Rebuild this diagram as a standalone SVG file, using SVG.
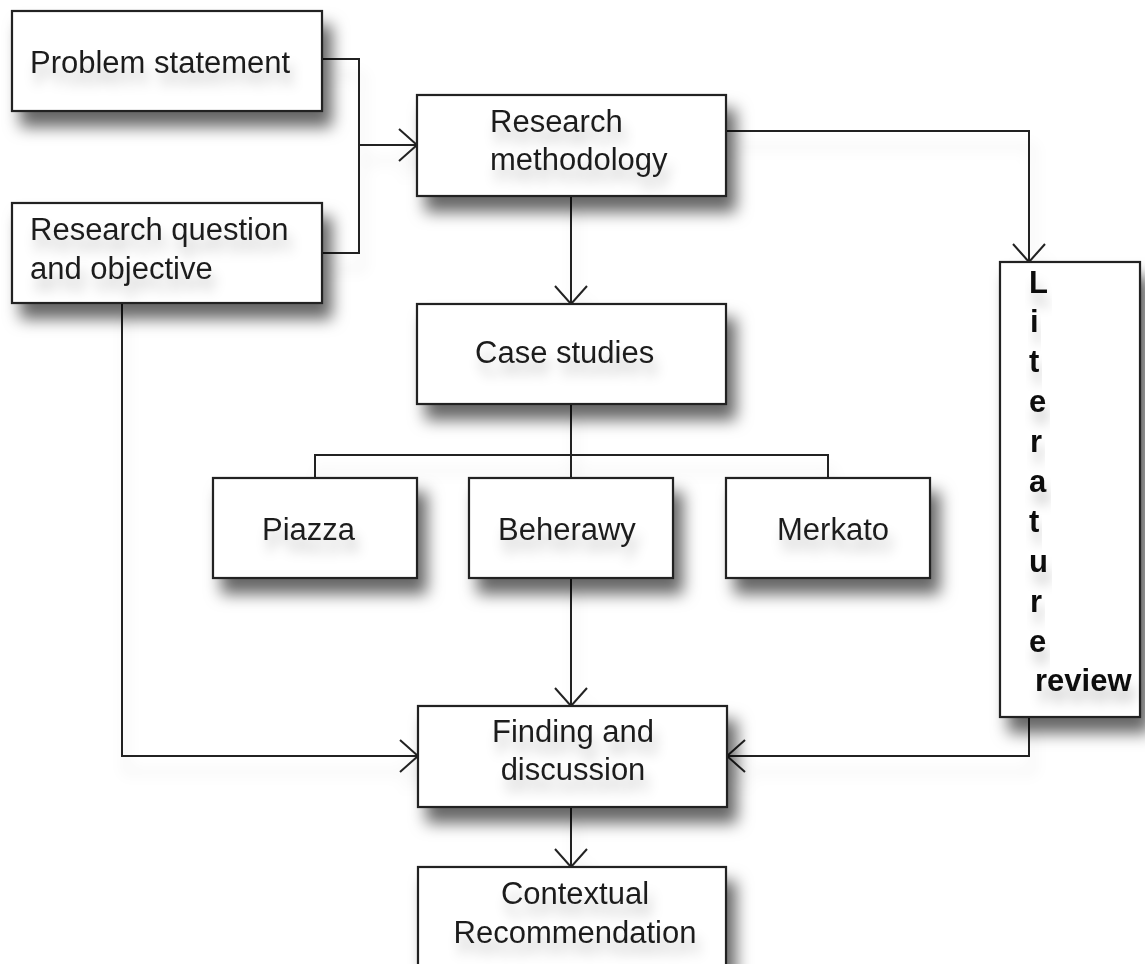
<svg xmlns="http://www.w3.org/2000/svg" width="1145" height="964" viewBox="0 0 1145 964">
<defs>
<filter id="boxShadow" x="-20%" y="-20%" width="150%" height="170%">
<feDropShadow dx="9" dy="15" stdDeviation="8" flood-color="#000" flood-opacity="0.6"/>
</filter>
<filter id="txtShadow" x="-20%" y="-50%" width="140%" height="250%">
<feDropShadow dx="4" dy="12" stdDeviation="6" flood-color="#000" flood-opacity="0.22"/>
</filter>
<filter id="lineShadow" x="-10%" y="-10%" width="120%" height="130%">
<feDropShadow dx="4" dy="16" stdDeviation="7" flood-color="#000" flood-opacity="0.12"/>
</filter>
<marker id="arr" viewBox="-20 -20 24 40" refX="0" refY="0" markerWidth="24" markerHeight="40" markerUnits="userSpaceOnUse" orient="auto" overflow="visible">
<path d="M-18,-16 L0,0 L-18,16" fill="none" stroke="#222" stroke-width="2"/>
</marker>
</defs>
<style>
.box{fill:#fff;stroke:#222;stroke-width:2.2;filter:url(#boxShadow)}
.t{font-family:"Liberation Sans",Arial,sans-serif;font-size:31px;fill:#1e1e1e;filter:url(#txtShadow)}
.b{font-family:"Liberation Sans",Arial,sans-serif;font-size:31px;font-weight:bold;fill:#111;filter:url(#txtShadow)}
.c{fill:none;stroke:#222;stroke-width:2}
</style>
<rect width="1145" height="964" fill="#fff"/>
<g id="connectors" filter="url(#lineShadow)">
<polyline class="c" points="322,59 359,59 359,253 322,253"/>
<line class="c" x1="359" y1="145" x2="417" y2="145" marker-end="url(#arr)"/>
<line class="c" x1="571" y1="196" x2="571" y2="304" marker-end="url(#arr)"/>
<polyline class="c" points="726,131 1029,131 1029,262" marker-end="url(#arr)"/>
<line class="c" x1="571" y1="404" x2="571" y2="478"/>
<polyline class="c" points="315,478 315,455 828,455 828,478"/>
<line class="c" x1="571" y1="578" x2="571" y2="706" marker-end="url(#arr)"/>
<polyline class="c" points="122,303 122,756 418,756" marker-end="url(#arr)"/>
<polyline class="c" points="1029,717 1029,756 727,756" marker-end="url(#arr)"/>
<line class="c" x1="571" y1="807" x2="571" y2="867" marker-end="url(#arr)"/>
</g>
<g id="problem-statement">
<rect class="box" x="12" y="11" width="310" height="100"/>
<text class="t" x="30" y="73">Problem statement</text>
</g>
<g id="research-question">
<rect class="box" x="12" y="203" width="310" height="100"/>
<text class="t" x="30" y="240">Research question</text>
<text class="t" x="30" y="279">and objective</text>
</g>
<g id="research-methodology">
<rect class="box" x="417" y="95" width="309" height="101"/>
<text class="t" x="490" y="132">Research</text>
<text class="t" x="490" y="170">methodology</text>
</g>
<g id="case-studies">
<rect class="box" x="417" y="304" width="309" height="100"/>
<text class="t" x="475" y="363">Case studies</text>
</g>
<g id="piazza">
<rect class="box" x="213" y="478" width="204" height="100"/>
<text class="t" x="262" y="540">Piazza</text>
</g>
<g id="beherawy">
<rect class="box" x="469" y="478" width="204" height="100"/>
<text class="t" x="498" y="540">Beherawy</text>
</g>
<g id="merkato">
<rect class="box" x="726" y="478" width="204" height="100"/>
<text class="t" x="777" y="540">Merkato</text>
</g>
<g id="literature-review">
<rect class="box" x="1000" y="262" width="140" height="455"/>
<text class="b" x="1029" y="293">L</text>
<text class="b" x="1030" y="332">i</text>
<text class="b" x="1029" y="372">t</text>
<text class="b" x="1029" y="412">e</text>
<text class="b" x="1030" y="452">r</text>
<text class="b" x="1029" y="492">a</text>
<text class="b" x="1029" y="532">t</text>
<text class="b" x="1029" y="572">u</text>
<text class="b" x="1030" y="612">r</text>
<text class="b" x="1029" y="652">e</text>
<text class="b" x="1035" y="691">review</text>
</g>
<g id="finding-discussion">
<rect class="box" x="418" y="706" width="309" height="101"/>
<text class="t" x="573" y="742" text-anchor="middle">Finding and</text>
<text class="t" x="573" y="780" text-anchor="middle">discussion</text>
</g>
<g id="contextual-recommendation">
<rect class="box" x="418" y="867" width="308" height="120"/>
<text class="t" x="575" y="904" text-anchor="middle">Contextual</text>
<text class="t" x="575" y="943" text-anchor="middle">Recommendation</text>
</g>
</svg>
